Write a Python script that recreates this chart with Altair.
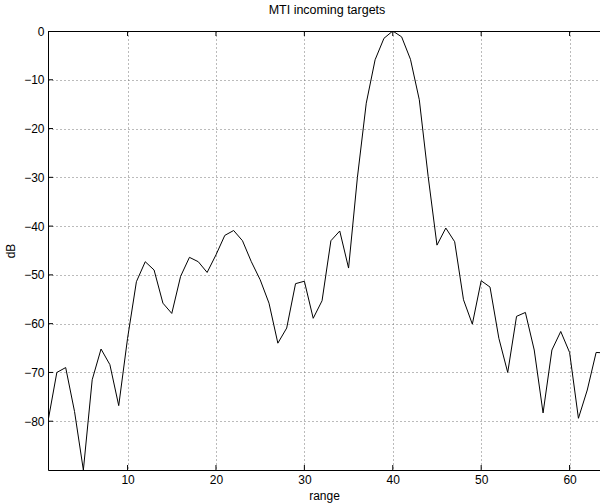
import altair as alt
import pandas as pd

# data
rng = list(range(1, 65))
db = [-80, -70, -69, -78, -90, -71.5, -65.2, -68.4, -76.8, -63,
      -51.4, -47.3, -49, -55.8, -57.9, -50.3, -46.4, -47.3, -49.5, -45.9,
      -41.9, -40.9, -43, -47.3, -51, -55.8, -64, -60.9, -51.8, -51.3,
      -58.9, -55.3, -43, -41, -48.6, -30, -14.8, -5.9, -1.5, 0,
      -1.2, -5.8, -14.1, -29.8, -43.9, -40.4, -43.2, -55.1, -60.1, -51.2,
      -52.5, -63, -70, -58.5, -57.7, -65.4, -78.3, -65.4, -61.6, -65.9,
      -79.4, -73.6, -65.9, -66]
xticks = [10, 20, 30, 40, 50, 60]
yticks = [-80, -70, -60, -50, -40, -30, -20, -10, 0]

W, H = 552, 439
FONT = "Liberation Sans"

df = pd.DataFrame({"range": rng, "dB": db})
xt = pd.DataFrame({"t": xticks})
yt = pd.DataFrame({"t": yticks[:-1]})

xscale = alt.Scale(domain=[1, 63.44], nice=False, zero=False)
yscale = alt.Scale(domain=[-90, 0], nice=False, zero=False)

line = alt.Chart(df).mark_line(color="black", strokeWidth=1, clip=True).encode(
    x=alt.X("range:Q", scale=xscale,
            axis=alt.Axis(values=xticks, title="range", ticks=False,
                          grid=True, gridDash=[1, 3], gridColor="#777",
                          domainColor="black", labelFont=FONT, labelFontSize=12,
                          labelColor="black", labelPadding=4, titleFont=FONT,
                          titleFontSize=12, titleFontWeight="normal",
                          titleColor="black", titlePadding=5)),
    y=alt.Y("dB:Q", scale=yscale,
            axis=alt.Axis(values=yticks, title="dB", ticks=False,
                          grid=True, gridDash=[1, 3], gridColor="#777",
                          domainColor="black", labelFont=FONT, labelFontSize=12,
                          labelColor="black", labelPadding=4, titleFont=FONT,
                          titleFontSize=12, titleFontWeight="normal",
                          titleColor="black", titlePadding=6)),
)

top_border = alt.Chart(xt).mark_rule(color="black", strokeWidth=1).encode(
    x=alt.value(0), x2=alt.value(W), y=alt.value(0.5)
)

xt_bot = alt.Chart(xt).mark_rule(color="black").encode(
    x=alt.X("t:Q", scale=xscale), y=alt.value(H), y2=alt.value(H - 5)
)
xt_top = alt.Chart(xt).mark_rule(color="black").encode(
    x=alt.X("t:Q", scale=xscale), y=alt.value(0), y2=alt.value(5)
)
yt_left = alt.Chart(yt).mark_rule(color="black").encode(
    y=alt.Y("t:Q", scale=yscale), x=alt.value(0), x2=alt.value(5)
)

chart = alt.layer(line, top_border, xt_bot, xt_top, yt_left).properties(
    width=W, height=H,
    title=alt.Title("MTI incoming targets", font=FONT, fontSize=12.5,
                    fontWeight="normal", color="black", offset=9, dx=3),
    autosize=alt.AutoSizeParams(type="none"),
    padding={"left": 48, "top": 31, "right": 0, "bottom": 34},
).configure_view(stroke=None).configure(background="white")

chart.save("out.html", embed_options={"renderer": "svg", "actions": False})
